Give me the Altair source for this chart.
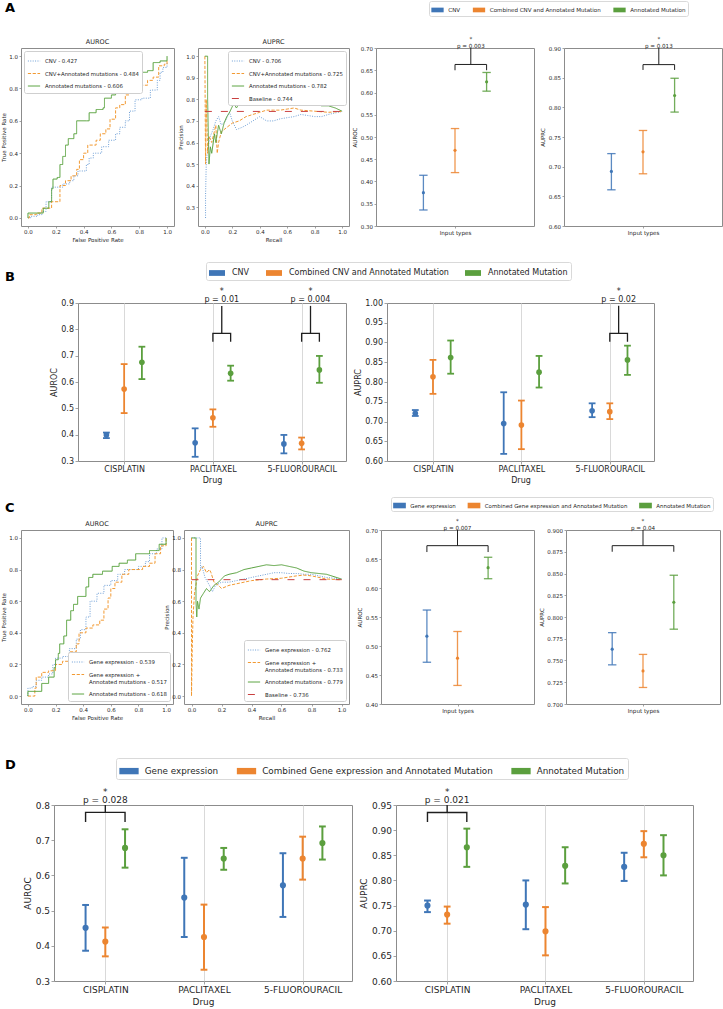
import altair as alt
import pandas as pd

FONT = "DejaVu Sans"
INK = "#1f1f1f"
FRAME = "#8c8c8c"
GRID = "#d9d9d9"

LINE_COLORS = ["#6e9fd6", "#f29a33", "#55a03a"]
BASELINE_COLOR = "#c94040"
BAR_COLORS = ["#3f76b7", "#ec8530", "#5b9f3e"]
CURVE_DASHES = [[1, 1.4], [3.2, 1.6], [1, 0]]
BASELINE_DASH = [7, 9]
TICKS_01 = [0, 0.2, 0.4, 0.6, 0.8, 1.0]

# ---------------- A: CNV and annotated-mutation models ----------------
a_roc_labels = ["CNV - 0.427", "CNV+Annotated mutations - 0.484", "Annotated mutations - 0.606"]
a_roc_cnv_fpr = [0.00, 0.02, 0.07, 0.10, 0.13, 0.17, 0.25, 0.30, 0.33, 0.36, 0.42, 0.44, 0.47, 0.53, 0.58, 0.63, 0.66, 0.70, 0.73, 0.77, 0.82, 0.88, 0.93, 0.95, 0.97, 1.00]
a_roc_cnv_tpr = [0.00, 0.01, 0.02, 0.04, 0.10, 0.19, 0.21, 0.23, 0.26, 0.29, 0.33, 0.37, 0.40, 0.44, 0.48, 0.52, 0.56, 0.60, 0.66, 0.73, 0.74, 0.79, 0.85, 0.90, 0.93, 0.96]
a_roc_comb_fpr = [0.00, 0.01, 0.06, 0.10, 0.17, 0.23, 0.27, 0.31, 0.35, 0.37, 0.40, 0.43, 0.49, 0.52, 0.56, 0.59, 0.63, 0.66, 0.70, 0.73, 0.76, 0.81, 0.86, 0.90, 0.94, 0.98, 1.00]
a_roc_comb_tpr = [0.00, 0.02, 0.03, 0.06, 0.10, 0.20, 0.23, 0.26, 0.30, 0.36, 0.40, 0.45, 0.48, 0.52, 0.55, 0.61, 0.68, 0.70, 0.76, 0.79, 0.81, 0.82, 0.85, 0.87, 0.94, 0.95, 0.98]
a_roc_ann_fpr = [0.00, 0.00, 0.06, 0.11, 0.15, 0.17, 0.18, 0.21, 0.23, 0.25, 0.27, 0.29, 0.33, 0.35, 0.42, 0.44, 0.49, 0.54, 0.55, 0.60, 0.63, 0.70, 0.72, 0.76, 0.81, 0.86, 0.90, 0.95, 1.00]
a_roc_ann_tpr = [0.00, 0.03, 0.03, 0.06, 0.10, 0.18, 0.24, 0.25, 0.33, 0.38, 0.45, 0.49, 0.52, 0.60, 0.60, 0.65, 0.67, 0.68, 0.74, 0.76, 0.79, 0.80, 0.84, 0.87, 0.90, 0.91, 0.96, 0.97, 1.00]

a_pr_labels = ["CNV - 0.706", "CNV+Annotated mutations - 0.725", "Annotated mutations - 0.782", "Baseline - 0.744"]
a_pr_cnv_rec = [0.005, 0.005, 0.01, 0.02, 0.04, 0.06, 0.08, 0.10, 0.12, 0.15, 0.18, 0.20, 0.23, 0.27, 0.30, 0.35, 0.40, 0.45, 0.50, 0.55, 0.60, 0.65, 0.70, 0.75, 0.80, 0.85, 0.90, 1.00]
a_pr_cnv_prec = [0.25, 0.35, 0.50, 0.57, 0.63, 0.66, 0.70, 0.72, 0.68, 0.70, 0.74, 0.70, 0.66, 0.67, 0.68, 0.70, 0.72, 0.70, 0.70, 0.71, 0.715, 0.72, 0.73, 0.725, 0.72, 0.72, 0.73, 0.744]
a_pr_comb_rec = [0.00, 0.005, 0.01, 0.02, 0.03, 0.05, 0.08, 0.09, 0.10, 0.12, 0.16, 0.20, 0.25, 0.30, 0.35, 0.40, 0.45, 0.50, 0.55, 0.60, 0.65, 0.70, 0.80, 0.90, 1.00]
a_pr_comb_prec = [1.00, 0.50, 0.80, 0.55, 0.63, 0.60, 0.68, 0.55, 0.60, 0.65, 0.67, 0.69, 0.70, 0.72, 0.73, 0.74, 0.75, 0.75, 0.75, 0.755, 0.76, 0.75, 0.745, 0.74, 0.744]
a_pr_ann_rec = [0.00, 0.02, 0.02, 0.03, 0.04, 0.05, 0.07, 0.08, 0.10, 0.12, 0.14, 0.16, 0.18, 0.21, 0.23, 0.26, 0.29, 0.33, 0.36, 0.40, 0.46, 0.50, 0.55, 0.61, 0.65, 0.70, 0.75, 0.80, 0.85, 0.90, 0.95, 1.00]
a_pr_ann_prec = [1.00, 1.00, 0.80, 0.50, 0.58, 0.55, 0.64, 0.60, 0.68, 0.64, 0.69, 0.72, 0.74, 0.78, 0.76, 0.79, 0.80, 0.81, 0.82, 0.82, 0.84, 0.83, 0.83, 0.83, 0.82, 0.80, 0.79, 0.78, 0.77, 0.77, 0.76, 0.745]
a_baseline = 0.744

a_inputs = ["CNV", "Combined CNV and Annotated Mutation", "Annotated Mutation"]
a_auroc_mean = [0.375, 0.470, 0.624]
a_auroc_low = [0.336, 0.420, 0.603]
a_auroc_high = [0.414, 0.519, 0.645]
a_auprc_mean = [0.692, 0.725, 0.820]
a_auprc_low = [0.661, 0.688, 0.792]
a_auprc_high = [0.722, 0.761, 0.849]

# ---------------- B: per-drug CNV models ----------------
drugs = ["CISPLATIN", "PACLITAXEL", "5-FLUOROURACIL"]
b_auroc_mean = [[0.399, 0.369, 0.365], [0.573, 0.464, 0.367], [0.675, 0.633, 0.646]]
b_auroc_low = [[0.387, 0.316, 0.329], [0.482, 0.430, 0.344], [0.611, 0.605, 0.597]]
b_auroc_high = [[0.408, 0.424, 0.399], [0.668, 0.496, 0.389], [0.734, 0.662, 0.699]]
b_auprc_mean = [[0.721, 0.695, 0.727], [0.813, 0.691, 0.725], [0.862, 0.825, 0.856]]
b_auprc_low = [[0.714, 0.618, 0.711], [0.770, 0.630, 0.706], [0.821, 0.786, 0.818]]
b_auprc_high = [[0.729, 0.774, 0.746], [0.856, 0.753, 0.746], [0.905, 0.866, 0.892]]

# ---------------- C: gene-expression and annotated-mutation models ----------------
c_roc_labels = ["Gene expression - 0.539", "Gene expression +\nAnnotated mutations - 0.517", "Annotated mutations - 0.618"]
c_roc_ge_fpr = [0.00, 0.00, 0.03, 0.06, 0.10, 0.15, 0.18, 0.20, 0.25, 0.30, 0.35, 0.38, 0.42, 0.45, 0.50, 0.55, 0.60, 0.65, 0.70, 0.80, 0.85, 0.88, 0.93, 0.97, 1.00]
c_roc_ge_tpr = [0.00, 0.05, 0.06, 0.10, 0.12, 0.14, 0.20, 0.24, 0.25, 0.30, 0.36, 0.42, 0.50, 0.60, 0.65, 0.70, 0.73, 0.77, 0.80, 0.82, 0.85, 0.90, 0.93, 1.00, 1.00]
c_roc_comb_fpr = [0.00, 0.05, 0.05, 0.06, 0.10, 0.15, 0.20, 0.25, 0.30, 0.35, 0.37, 0.42, 0.47, 0.52, 0.55, 0.58, 0.60, 0.63, 0.68, 0.73, 0.83, 0.88, 0.92, 0.96, 1.00]
c_roc_comb_tpr = [0.00, 0.00, 0.05, 0.12, 0.15, 0.16, 0.20, 0.22, 0.28, 0.33, 0.40, 0.43, 0.45, 0.48, 0.55, 0.62, 0.68, 0.72, 0.77, 0.80, 0.82, 0.84, 0.90, 0.95, 1.00]
c_roc_ann_fpr = [0.00, 0.00, 0.10, 0.15, 0.19, 0.20, 0.22, 0.23, 0.26, 0.28, 0.31, 0.33, 0.36, 0.42, 0.44, 0.47, 0.54, 0.61, 0.66, 0.72, 0.78, 0.88, 0.95, 1.00]
c_roc_ann_tpr = [0.00, 0.03, 0.08, 0.12, 0.18, 0.23, 0.27, 0.33, 0.38, 0.48, 0.54, 0.58, 0.63, 0.69, 0.75, 0.77, 0.79, 0.82, 0.84, 0.86, 0.90, 0.92, 0.96, 1.00]

c_pr_labels = ["Gene expression - 0.762", "Gene expression +\nAnnotated mutations - 0.733", "Annotated mutations - 0.779", "Baseline - 0.736"]
c_pr_ge_rec = [0.00, 0.06, 0.06, 0.07, 0.09, 0.12, 0.14, 0.16, 0.20, 0.25, 0.30, 0.35, 0.40, 0.45, 0.50, 0.55, 0.60, 0.65, 0.70, 0.75, 0.80, 0.85, 0.90, 0.95, 1.00]
c_pr_ge_prec = [1.00, 1.00, 0.80, 0.82, 0.75, 0.70, 0.66, 0.70, 0.72, 0.72, 0.73, 0.74, 0.75, 0.76, 0.77, 0.78, 0.78, 0.775, 0.775, 0.77, 0.77, 0.76, 0.75, 0.745, 0.74]
c_pr_comb_rec = [0.00, 0.00, 0.005, 0.01, 0.02, 0.04, 0.06, 0.08, 0.10, 0.12, 0.13, 0.15, 0.18, 0.20, 0.25, 0.30, 0.35, 0.40, 0.50, 0.60, 0.70, 0.75, 0.80, 0.85, 0.90, 1.00]
c_pr_comb_prec = [1.00, 0.00, 0.30, 0.50, 0.65, 0.76, 0.80, 0.82, 0.78, 0.80, 0.78, 0.72, 0.70, 0.68, 0.70, 0.71, 0.72, 0.73, 0.74, 0.745, 0.76, 0.765, 0.76, 0.75, 0.74, 0.735]
c_pr_ann_rec = [0.00, 0.03, 0.03, 0.035, 0.04, 0.05, 0.06, 0.08, 0.10, 0.12, 0.15, 0.18, 0.20, 0.22, 0.25, 0.30, 0.35, 0.40, 0.45, 0.50, 0.55, 0.60, 0.65, 0.70, 0.75, 0.80, 0.85, 0.90, 0.95, 1.00]
c_pr_ann_prec = [1.00, 1.00, 0.60, 0.50, 0.60, 0.55, 0.62, 0.65, 0.68, 0.66, 0.70, 0.72, 0.74, 0.76, 0.77, 0.78, 0.80, 0.81, 0.82, 0.83, 0.825, 0.83, 0.82, 0.81, 0.79, 0.78, 0.775, 0.77, 0.755, 0.74]
c_baseline = 0.736

c_inputs = ["Gene expression", "Combined Gene expression and Annotated Mutation", "Annotated Mutation"]
c_auroc_mean = [0.517, 0.479, 0.635]
c_auroc_low = [0.472, 0.432, 0.616]
c_auroc_high = [0.562, 0.525, 0.653]
c_auprc_mean = [0.763, 0.738, 0.817]
c_auprc_low = [0.745, 0.719, 0.786]
c_auprc_high = [0.782, 0.757, 0.848]

# ---------------- D: per-drug gene-expression models ----------------
d_auroc_mean = [[0.451, 0.537, 0.572], [0.412, 0.425, 0.648], [0.678, 0.648, 0.692]]
d_auroc_low = [[0.386, 0.425, 0.482], [0.370, 0.332, 0.588], [0.622, 0.616, 0.645]]
d_auroc_high = [[0.516, 0.650, 0.663], [0.452, 0.517, 0.710], [0.731, 0.678, 0.739]]
d_auprc_mean = [[0.750, 0.752, 0.827], [0.732, 0.699, 0.873], [0.866, 0.829, 0.850]]
d_auprc_low = [[0.737, 0.703, 0.799], [0.714, 0.651, 0.846], [0.827, 0.794, 0.810]]
d_auprc_high = [[0.760, 0.800, 0.855], [0.748, 0.747, 0.898], [0.903, 0.866, 0.890]]

# significance brackets: (left x, right x, foot y, bar y, stem top y, p-value text)
a_auroc_sig = [(0.0, 0.2, 0.650, 0.663, 0.700, "p = 0.003")]
a_auprc_sig = [(0.0, 0.2, 0.863, 0.872, 0.900, "p = 0.013")]
b_auroc_sig = [(1.0, 1.2, 0.753, 0.785, 0.889, "p = 0.01"), (2.0, 2.2, 0.753, 0.785, 0.889, "p = 0.004")]
b_auprc_sig = [(2.0, 2.2, 0.902, 0.923, 0.993, "p = 0.02")]
c_auroc_sig = [(-0.2, 0.2, 0.662, 0.673, 0.700, "p = 0.007")]
c_auprc_sig = [(-0.2, 0.2, 0.875, 0.882, 0.900, "p = 0.04")]
d_auroc_sig = [(-0.2, 0.2, 0.752, 0.779, 0.800, "p = 0.028")]
d_auprc_sig = [(-0.2, 0.2, 0.916, 0.935, 0.950, "p = 0.021")]

OFFSETS = [-0.2, 0.0, 0.2]

SMALL = dict(font=5.5, lw=1.3, cap=4.2, pt=10, op=0.85, bw=1.0, pfont=5.6, star_y=-7, p_y=-0.5, tick=2)
BIG_B = dict(font=8, lw=1.8, cap=3.4, pt=32, op=1.0, bw=1.3, pfont=8, star_y=-9.5, p_y=-1.5, tick=3)
BIG_D = dict(font=9, lw=2.0, cap=3.4, pt=38, op=1.0, bw=1.4, pfont=9, star_y=-10.5, p_y=-2, tick=3)

# plot-area sizes of each row and the gaps between rows
ROW_H = [178, 158, 174, 176]
ROW_GAP = [77, 69, 101]


def curve_frame(labels, xs, ys):
    rows = []
    for lab, xv, yv in zip(labels, xs, ys):
        for i, (x, y) in enumerate(zip(xv, yv)):
            rows.append({"series": lab, "x": x, "y": y, "i": i})
    return pd.DataFrame(rows)


def axis(title, values, fmt, st, **kw):
    return alt.Axis(title=title, values=values, format=fmt, labelFontSize=st["font"],
                    titleFontSize=st["font"], labelFont=FONT, titleFont=FONT, labelColor=INK,
                    titleColor=INK, titleFontWeight="normal", tickSize=st["tick"], tickWidth=0.8,
                    tickColor=FRAME, domain=False, labelPadding=1.5, titlePadding=2.5, **kw)


def letter(text, dx, dy):
    return alt.Chart(pd.DataFrame({"t": [text]})).mark_text(
        font=FONT, fontSize=13, fontWeight="bold", color="black", align="left", baseline="alphabetic"
    ).encode(x=alt.value(dx), y=alt.value(dy), text="t:N")


def curve_panel(df, labels, colors, dashes, widths, title, xtitle, ytitle, ydom, yvals,
                w, h, orient, step):
    leg = alt.Legend(title=None, orient=orient, offset=3, labelFontSize=5.4, labelFont=FONT,
                     labelColor=INK, labelLimit=400, labelExpr="split(datum.label, '\\n')",
                     symbolType="stroke", symbolSize=150, rowPadding=1.5, padding=3,
                     strokeColor="#cfcfcf", fillColor="white", cornerRadius=2)
    lines = alt.Chart(df).mark_line(
        clip=True, interpolate="step-after" if step else "linear", strokeCap="butt"
    ).encode(
        x=alt.X("x:Q", scale=alt.Scale(domain=[-0.05, 1.05], nice=False, zero=False),
                axis=axis(xtitle, TICKS_01, ".1f", SMALL, grid=False)),
        y=alt.Y("y:Q", scale=alt.Scale(domain=ydom, nice=False, zero=False),
                axis=axis(ytitle, yvals, ".1f", SMALL, grid=False)),
        color=alt.Color("series:N", scale=alt.Scale(domain=labels, range=colors), legend=leg),
        strokeDash=alt.StrokeDash("series:N", scale=alt.Scale(domain=labels, range=dashes), legend=leg),
        strokeWidth=alt.StrokeWidth("series:N", scale=alt.Scale(domain=labels, range=widths), legend=leg),
        order=alt.Order("i:Q"),
    )
    return lines.properties(
        width=w, height=h,
        title=alt.Title(title, fontSize=6.5, font=FONT, fontWeight="normal", color=INK, offset=3),
    )


def errbar_frame(names, xs, means, lows, highs):
    return pd.DataFrame({"series": names, "x": xs, "mean": means, "low": lows, "high": highs})


def drug_frame(names, means, lows, highs):
    rows = []
    for s, name in enumerate(names):
        for d in range(len(drugs)):
            rows.append({"series": name, "x": d + OFFSETS[s], "mean": means[s][d],
                         "low": lows[s][d], "high": highs[s][d]})
    return pd.DataFrame(rows)


def errbar_panel(df, names, xdom, xaxis, ydom, yaxis, w, h, st, sig, legend, extra=()):
    xs = alt.Scale(domain=xdom, nice=False, zero=False)
    ys = alt.Scale(domain=ydom, nice=False, zero=False)
    X = alt.X("x:Q", scale=xs, axis=xaxis)
    color = alt.Color("series:N", scale=alt.Scale(domain=names, range=BAR_COLORS), legend=legend)
    base = alt.Chart(df)
    bars = base.mark_rule(strokeWidth=st["lw"], opacity=st["op"]).encode(
        x=X, y=alt.Y("low:Q", scale=ys, axis=yaxis), y2="high:Q", color=color)
    caps = [
        base.mark_rule(strokeWidth=st["lw"], opacity=st["op"], xOffset=-st["cap"], x2Offset=st["cap"]).encode(
            x=X, x2=alt.X2("x"), y=alt.Y(f"{f}:Q", scale=ys, axis=yaxis), color=color)
        for f in ("low", "high")
    ]
    pts = base.mark_circle(size=st["pt"], opacity=1).encode(
        x=X, y=alt.Y("mean:Q", scale=ys, axis=yaxis), color=color)

    brows, srows = [], []
    for k, (x1, x2, foot, bar, top, ptxt) in enumerate(sig):
        for i, (bx, by) in enumerate([(x1, foot), (x1, bar), (x2, bar), (x2, foot)]):
            brows.append({"k": k, "i": i, "x": bx, "y": by})
        srows.append({"x": (x1 + x2) / 2, "y": bar, "y2": top, "p": ptxt, "star": "*"})
    bdf, sdf = pd.DataFrame(brows), pd.DataFrame(srows)
    bline = alt.Chart(bdf).mark_line(color=INK, strokeWidth=st["bw"]).encode(
        x=X, y=alt.Y("y:Q", scale=ys, axis=yaxis), detail="k:N", order="i:Q")
    stem = alt.Chart(sdf).mark_rule(color=INK, strokeWidth=st["bw"]).encode(
        x=X, y=alt.Y("y:Q", scale=ys, axis=yaxis), y2="y2:Q")
    star = alt.Chart(sdf).mark_text(font=FONT, fontSize=st["pfont"], color=INK, baseline="alphabetic").encode(
        x=X, y=alt.value(st["star_y"]), text="star:N")
    ptext = alt.Chart(sdf).mark_text(font=FONT, fontSize=st["pfont"], color=INK, baseline="alphabetic").encode(
        x=X, y=alt.value(st["p_y"]), text="p:N")
    return alt.layer(bars, *caps, pts, bline, stem, star, ptext, *extra).properties(width=w, height=h)


def row_legend(dx, dy, font, sym_w, ratio, label_offset, col_pad, pad):
    return alt.Legend(title=None, orient="none", legendX=dx, legendY=dy, direction="horizontal",
                      labelFontSize=font, labelFont=FONT, labelColor=INK, labelLimit=500,
                      symbolType=f"M-1,-{ratio}H1V{ratio}H-1Z", symbolSize=sym_w ** 2,
                      symbolStrokeWidth=0, symbolOpacity=1, labelOffset=label_offset,
                      columnPadding=col_pad, padding=pad, strokeColor="#d9d9d9",
                      fillColor="white", cornerRadius=2)


def small_xaxis():
    return alt.Axis(title="Input types", values=[0], labels=False, titleFontSize=5.6, titleFont=FONT,
                    titleColor=INK, titleFontWeight="normal", tickSize=2, tickWidth=0.8,
                    tickColor=FRAME, domain=False, grid=False, titlePadding=2)


def drug_xaxis(st):
    names = ",".join(f"'{d}'" for d in drugs)
    return axis("Drug", [0, 1, 2], "", st, grid=True, gridColor=GRID, gridWidth=1,
                labelExpr=f"[{names}][datum.value]")


def spacer(w):
    return alt.Chart(pd.DataFrame({"v": [0]})).mark_point(opacity=0).encode(
        x=alt.value(0), y=alt.value(0)).properties(width=w, height=10,
                                                   view=alt.ViewBackground(stroke="transparent"))


INDEP = dict(color="independent", strokeDash="independent", strokeWidth="independent")


def hjoin(a, b, gap):
    return alt.hconcat(a, b, spacing=gap, bounds="flush").resolve_scale(**INDEP).resolve_legend(**INDEP)


def vjoin(a, b, step):
    # nested groups count as zero height under flush bounds, so the step is the full row pitch
    return alt.vconcat(a, b, spacing=step, bounds="flush").resolve_scale(**INDEP).resolve_legend(**INDEP)


# ---------------- row A ----------------
a_roc = curve_panel(
    curve_frame(a_roc_labels, [a_roc_cnv_fpr, a_roc_comb_fpr, a_roc_ann_fpr],
                [a_roc_cnv_tpr, a_roc_comb_tpr, a_roc_ann_tpr]),
    a_roc_labels, LINE_COLORS, CURVE_DASHES, [1, 1, 1.1], "AUROC", "False Positive Rate",
    "True Positive Rate", [-0.05, 1.05], TICKS_01, 153, ROW_H[0], "top-left", True)
a_pr = curve_panel(
    curve_frame(a_pr_labels, [a_pr_cnv_rec, a_pr_comb_rec, a_pr_ann_rec, [0, 1]],
                [a_pr_cnv_prec, a_pr_comb_prec, a_pr_ann_prec, [a_baseline, a_baseline]]),
    a_pr_labels, LINE_COLORS + [BASELINE_COLOR], CURVE_DASHES + [BASELINE_DASH], [1, 1, 1.1, 2.6],
    "AUPRC", "Recall", "Precision", [0.213, 1.038], [0.3, 0.4, 0.5, 0.6, 0.7, 0.8, 0.9, 1.0],
    151, ROW_H[0], "top-right", False)
a_auroc = errbar_panel(
    errbar_frame(a_inputs, OFFSETS, a_auroc_mean, a_auroc_low, a_auroc_high), a_inputs,
    [-0.5, 0.5], small_xaxis(), [0.30, 0.70],
    axis("AUROC", [0.30, 0.35, 0.40, 0.45, 0.50, 0.55, 0.60, 0.65, 0.70], ".2f", SMALL, grid=False),
    158, ROW_H[0], SMALL, a_auroc_sig, row_legend(53, -47, 5.55, 12.3, 0.38, 4.3, 11.5, 2),
    extra=[letter("A", -371, -36)])
a_auprc = errbar_panel(
    errbar_frame(a_inputs, OFFSETS, a_auprc_mean, a_auprc_low, a_auprc_high), a_inputs,
    [-0.5, 0.5], small_xaxis(), [0.60, 0.90],
    axis("AUPRC", [0.60, 0.65, 0.70, 0.75, 0.80, 0.85, 0.90], ".2f", SMALL, grid=False),
    158, ROW_H[0], SMALL, a_auprc_sig, None)
row_a = hjoin(a_roc, hjoin(a_pr, hjoin(a_auroc, a_auprc, 30), 27), 24)

# ---------------- row B ----------------
b_auroc = errbar_panel(
    drug_frame(a_inputs, b_auroc_mean, b_auroc_low, b_auroc_high), a_inputs,
    [-0.52, 2.5], drug_xaxis(BIG_B), [0.3, 0.9],
    axis("AUROC", [0.3, 0.4, 0.5, 0.6, 0.7, 0.8, 0.9], ".1f", BIG_B, grid=False),
    268, ROW_H[1], BIG_B, b_auroc_sig, row_legend(128, -41, 8, 16, 0.36, 7, 16, 3),
    extra=[letter("B", -73, -22)])
b_auprc = errbar_panel(
    drug_frame(a_inputs, b_auprc_mean, b_auprc_low, b_auprc_high), a_inputs,
    [-0.52, 2.5], drug_xaxis(BIG_B), [0.60, 1.00],
    axis("AUPRC", [0.60, 0.65, 0.70, 0.75, 0.80, 0.85, 0.90, 0.95, 1.00], ".2f", BIG_B, grid=False),
    267, ROW_H[1], BIG_B, b_auprc_sig, None)
row_b = hjoin(spacer(57), hjoin(b_auroc, b_auprc, 41), 0)

# ---------------- row C ----------------
c_roc = curve_panel(
    curve_frame(c_roc_labels, [c_roc_ge_fpr, c_roc_comb_fpr, c_roc_ann_fpr],
                [c_roc_ge_tpr, c_roc_comb_tpr, c_roc_ann_tpr]),
    c_roc_labels, LINE_COLORS, CURVE_DASHES, [1, 1, 1.1], "AUROC", "False Positive Rate",
    "True Positive Rate", [-0.05, 1.05], TICKS_01, 152, ROW_H[2], "bottom-right", True)
c_pr = curve_panel(
    curve_frame(c_pr_labels, [c_pr_ge_rec, c_pr_comb_rec, c_pr_ann_rec, [0, 1]],
                [c_pr_ge_prec, c_pr_comb_prec, c_pr_ann_prec, [c_baseline, c_baseline]]),
    c_pr_labels, LINE_COLORS + [BASELINE_COLOR], CURVE_DASHES + [BASELINE_DASH], [1, 1, 1.1, 2.6],
    "AUPRC", "Recall", "Precision", [-0.05, 1.05], TICKS_01, 165, ROW_H[2], "bottom-right", False)
c_auroc = errbar_panel(
    errbar_frame(c_inputs, OFFSETS, c_auroc_mean, c_auroc_low, c_auroc_high), c_inputs,
    [-0.5, 0.5], small_xaxis(), [0.40, 0.70],
    axis("AUROC", [0.40, 0.45, 0.50, 0.55, 0.60, 0.65, 0.70], ".2f", SMALL, grid=False),
    153, ROW_H[2], SMALL, c_auroc_sig, row_legend(10, -33, 5.45, 12.7, 0.44, 4.3, 11.5, 2),
    extra=[letter("C", -376, -18.5)])
c_auprc = errbar_panel(
    errbar_frame(c_inputs, OFFSETS, c_auprc_mean, c_auprc_low, c_auprc_high), c_inputs,
    [-0.5, 0.5], small_xaxis(), [0.700, 0.900],
    axis("AUPRC", [0.700, 0.725, 0.750, 0.775, 0.800, 0.825, 0.850, 0.875, 0.900], ".3f", SMALL, grid=False),
    154, ROW_H[2], SMALL, c_auprc_sig, None)
row_c = hjoin(c_roc, hjoin(c_pr, hjoin(c_auroc, c_auprc, 32), 32), 11)

# ---------------- row D ----------------
d_auroc = errbar_panel(
    drug_frame(c_inputs, d_auroc_mean, d_auroc_low, d_auroc_high), c_inputs,
    [-0.52, 2.5], drug_xaxis(BIG_D), [0.3, 0.8],
    axis("AUROC", [0.3, 0.4, 0.5, 0.6, 0.7, 0.8], ".1f", BIG_D, grid=False),
    298, ROW_H[3], BIG_D, d_auroc_sig, row_legend(62, -47, 8.8, 19.3, 0.33, 5.7, 17.5, 3),
    extra=[letter("D", -49, -36)])
d_auprc = errbar_panel(
    drug_frame(c_inputs, d_auprc_mean, d_auprc_low, d_auprc_high), c_inputs,
    [-0.52, 2.5], drug_xaxis(BIG_D), [0.60, 0.95],
    axis("AUPRC", [0.60, 0.65, 0.70, 0.75, 0.80, 0.85, 0.90, 0.95], ".2f", BIG_D, grid=False),
    297, ROW_H[3], BIG_D, d_auprc_sig, None)
row_d = hjoin(spacer(33), hjoin(d_auroc, d_auprc, 44), 0)

chart = vjoin(
    row_a,
    vjoin(row_b, vjoin(row_c, row_d, ROW_H[2] + ROW_GAP[2]), ROW_H[1] + ROW_GAP[1]),
    ROW_H[0] + ROW_GAP[0],
).properties(
    padding={"left": 0, "top": 0, "right": 0, "bottom": 0}
).configure(font=FONT).configure_view(stroke=FRAME, strokeWidth=1)

chart.save("out.html", embed_options={"renderer": "svg", "actions": False})
